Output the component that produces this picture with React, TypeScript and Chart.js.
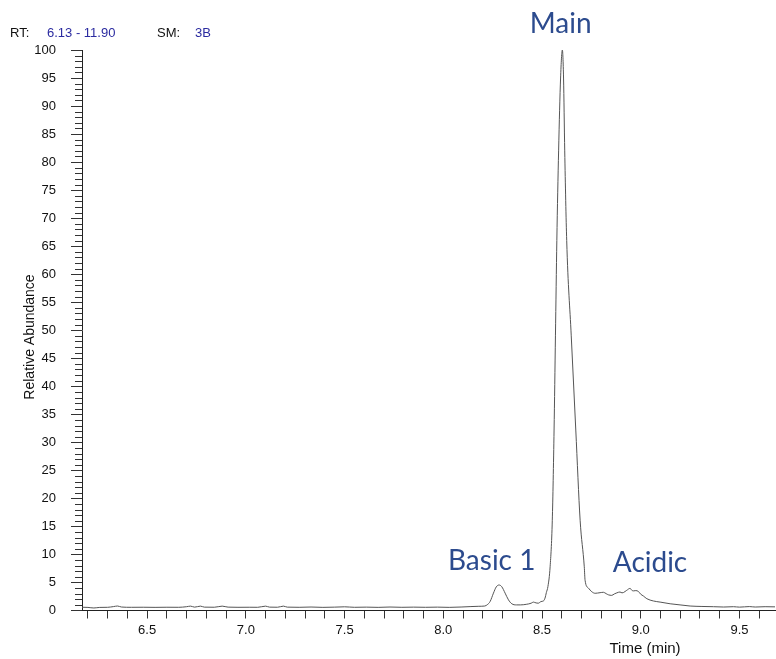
import React, { useEffect, useRef } from "react";
import { Chart, registerables } from "chart.js";

Chart.register(...registerables);

// Retention time (min)
const times = [
  6.17, 6.2, 6.23, 6.26, 6.3, 6.33, 6.35, 6.37, 6.42, 6.48, 6.54, 6.6, 6.66, 6.7, 6.72, 6.74,
  6.77, 6.79, 6.84, 6.88, 6.91, 6.96, 7.02, 7.06, 7.1, 7.12, 7.16, 7.19, 7.21, 7.27, 7.33, 7.39,
  7.45, 7.5, 7.55, 7.61, 7.67, 7.73, 7.79, 7.85, 7.91, 7.97, 8.03, 8.09, 8.14, 8.18, 8.21,
  8.225, 8.237, 8.254, 8.268, 8.282, 8.296, 8.313, 8.33, 8.347, 8.37, 8.39, 8.42, 8.445, 8.456,
  8.47, 8.481, 8.495, 8.507, 8.515, 8.522, 8.53, 8.541, 8.552, 8.561, 8.568, 8.575, 8.584, 8.594,
  8.603, 8.609, 8.615, 8.625, 8.648, 8.671, 8.693, 8.714, 8.718, 8.735, 8.752, 8.769, 8.794,
  8.811, 8.825, 8.836, 8.853, 8.866, 8.879, 8.895, 8.905, 8.912, 8.929, 8.946, 8.955, 8.963,
  8.975, 8.988, 9.0, 9.013, 9.031, 9.064, 9.098, 9.149, 9.199, 9.25, 9.31, 9.368, 9.42, 9.47,
  9.5, 9.55, 9.58, 9.63, 9.68,
];

// Relative abundance (%)
const intensities = [
  0.58, 0.55, 0.45, 0.55, 0.57, 0.7, 0.8, 0.62, 0.57, 0.58, 0.56, 0.58, 0.57, 0.68, 0.78, 0.6,
  0.78, 0.6, 0.58, 0.78, 0.6, 0.57, 0.58, 0.57, 0.78, 0.6, 0.58, 0.78, 0.6, 0.57, 0.62, 0.56,
  0.6, 0.66, 0.57, 0.6, 0.56, 0.62, 0.57, 0.6, 0.57, 0.6, 0.56, 0.62, 0.7, 0.75, 0.8,
  1.1, 1.6, 3.1, 4.2, 4.55, 4.25, 3.1, 1.9, 1.2, 1.0, 1.0, 1.1, 1.3, 1.5,
  1.35, 1.3, 1.6, 1.7, 2.2, 3.2, 4.3, 7.8, 16.1, 32.2, 49, 66, 82, 95,
  100, 95, 82, 66, 49, 32.2, 16.1, 7.8, 5.4, 4.0, 3.35, 3.07, 3.18,
  3.25, 3.0, 2.8, 2.7, 2.95, 3.15, 3.3, 3.15, 3.2, 3.6, 3.95, 3.6, 3.5,
  3.55, 3.4, 2.9, 2.6, 2.1, 1.7, 1.5, 1.2, 1.0, 0.8, 0.72, 0.68, 0.62, 0.68,
  0.6, 0.7, 0.62, 0.68, 0.65,
];

const xMin = 6.17;
const xMax = 9.68;
const xStep = 0.1;
const xLabelEvery = 0.5;
const yMin = 0;
const yMax = 100;
const yMajorStep = 5;
const yMinorStep = 1;

const headerParts = ["RT:", "6.13 - 11.90", "SM:", "3B"];
const xTitle = "Time (min)";
const yTitle = "Relative Abundance";

const peakNames = ["Main", "Basic 1", "Acidic"];
const peakNameTimes = [8.594, 8.245, 9.047];
const peakNameLevels = [103.0, 7.2, 6.9];

const SANS = '"Liberation Sans", Arial, "DejaVu Sans", sans-serif';

const overlayPlugin = {
  id: "overlay",
  afterDraw(chart: any) {
    const { ctx, chartArea, scales } = chart;
    const xs = scales.x;
    const ys = scales.y;
    ctx.save();

    // minor y ticks
    ctx.strokeStyle = "#333";
    ctx.lineWidth = 1;
    ctx.beginPath();
    for (let v = yMin; v <= yMax; v += yMinorStep) {
      if (v % yMajorStep === 0) continue;
      const py = Math.round(ys.getPixelForValue(v)) + 0.5;
      ctx.moveTo(chartArea.left - 7, py);
      ctx.lineTo(chartArea.left, py);
    }
    ctx.stroke();

    // header
    ctx.font = `13px ${SANS}`;
    ctx.textBaseline = "alphabetic";
    ctx.textAlign = "left";
    const headerX = [10, 47, 157, 195];
    const headerColors = ["#111", "#2b2ba0", "#111", "#2b2ba0"];
    headerParts.forEach((t, i) => {
      ctx.fillStyle = headerColors[i];
      ctx.fillText(t, headerX[i], 37);
    });

    // y title
    ctx.save();
    ctx.translate(30, 337);
    ctx.rotate(-Math.PI / 2);
    ctx.font = `14px ${SANS}`;
    ctx.fillStyle = "#111";
    ctx.textAlign = "center";
    ctx.textBaseline = "middle";
    ctx.fillText(yTitle, 0, 0);
    ctx.restore();

    // x title
    ctx.font = `15px ${SANS}`;
    ctx.fillStyle = "#111";
    ctx.textAlign = "center";
    ctx.textBaseline = "middle";
    ctx.fillText(xTitle, 645, 649);

    // peak names
    ctx.font = `28px Lato, "Open Sans", sans-serif`;
    ctx.fillStyle = "#2c4b8e";
    ctx.textAlign = "center";
    ctx.textBaseline = "alphabetic";
    peakNames.forEach((name, i) => {
      ctx.fillText(name, xs.getPixelForValue(peakNameTimes[i]), ys.getPixelForValue(peakNameLevels[i]));
    });

    ctx.restore();
  },
};

export default function App() {
  const canvasRef = useRef<HTMLCanvasElement | null>(null);

  useEffect(() => {
    const canvas = canvasRef.current;
    if (!canvas) return;
    const data = times.map((t, i) => ({ x: t, y: intensities[i] }));
    const chart = new Chart(canvas, {
      type: "line",
      data: {
        datasets: [
          {
            data,
            borderColor: "#555",
            borderWidth: 1,
            pointRadius: 0,
            cubicInterpolationMode: "monotone",
            fill: false,
          },
        ],
      },
      options: {
        animation: false,
        responsive: false,
        maintainAspectRatio: false,
        layout: { padding: { top: 50, right: 1, left: 0, bottom: 0 } },
        plugins: {
          legend: { display: false },
          tooltip: { enabled: false },
          title: { display: false },
        },
        scales: {
          x: {
            type: "linear",
            min: xMin,
            max: xMax,
            afterFit: (s: any) => {
              s.height = 48.5;
            },
            border: { display: true, color: "#222", width: 1 },
            grid: { drawOnChartArea: false, drawTicks: true, tickLength: 8, color: "#333" },
            ticks: {
              stepSize: xStep,
              includeBounds: false,
              autoSkip: false,
              maxRotation: 0,
              minRotation: 0,
              padding: 4,
              color: "#111",
              font: { family: SANS, size: 13 },
              callback: (v: any) => {
                const n = Number(v) / xLabelEvery;
                return Math.abs(n - Math.round(n)) < 1e-6 ? Number(v).toFixed(1) : "";
              },
            },
          },
          y: {
            type: "linear",
            min: yMin,
            max: yMax,
            afterFit: (s: any) => {
              s.width = 82;
            },
            border: { display: true, color: "#222", width: 1 },
            grid: { drawOnChartArea: false, drawTicks: true, tickLength: 11, color: "#333" },
            ticks: {
              stepSize: yMajorStep,
              autoSkip: false,
              padding: 15,
              color: "#111",
              font: { family: SANS, size: 13 },
            },
          },
        },
      },
      plugins: [overlayPlugin],
    } as any);
    return () => chart.destroy();
  }, []);

  return (
    <div style={{ position: "fixed", left: 0, top: 0, width: 776, height: 659, background: "#fff" }}>
      <canvas ref={canvasRef} width={776} height={659} style={{ width: 776, height: 659 }} />
    </div>
  );
}
